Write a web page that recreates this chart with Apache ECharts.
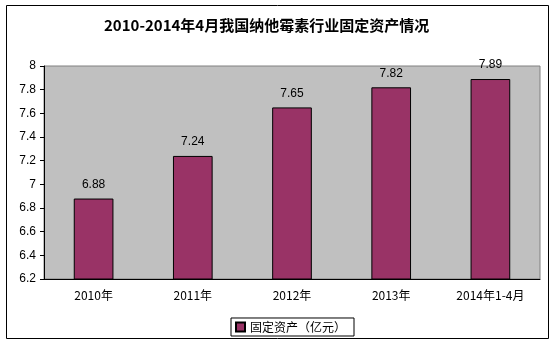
<!DOCTYPE html>
<html><head><meta charset="utf-8">
<script src="https://cdn.jsdelivr.net/npm/echarts@6/dist/echarts.min.js"></script>
<style>html,body{margin:0;padding:0;background:#fff}#c{width:556px;height:345px}</style>
</head><body><div id="c"></div>
<script>
const categories = ['2010年','2011年','2012年','2013年','2014年1-4月'];
const values = [6.88, 7.24, 7.65, 7.82, 7.89];
const seriesName = '固定资产（亿元）';
const titleText = '2010-2014年4月我国纳他霉素行业固定资产情况';

const chart = echarts.init(document.getElementById('c'), null, {renderer:'canvas'});
chart.setOption({
  animation:false,
  backgroundColor:'#fff',
  title:{text:titleText,left:99,top:13,textStyle:{fontSize:15,fontWeight:'bold',color:'#000',fontFamily:'Noto Sans CJK SC'}},
  graphic:[{type:'rect',shape:{x:6.5,y:5.5,width:542,height:333},style:{fill:null,stroke:'#000',lineWidth:1},z:-1}],
  legend:{data:[seriesName],bottom:9,left:231,itemWidth:9,itemHeight:9,itemGap:4,
    borderColor:'#000',borderWidth:1,borderRadius:0,padding:[3,8,3,4],
    textStyle:{fontSize:12,color:'#000',fontFamily:'Noto Sans CJK SC'},icon:'rect'},
  grid:{left:44,right:16,top:66,bottom:66,show:true,backgroundColor:'#c0c0c0',borderColor:'#808080',borderWidth:1},
  xAxis:{type:'category',data:categories,
    axisLine:{lineStyle:{color:'#000'}},
    axisTick:{inside:true,length:4,lineStyle:{color:'#000'}},
    axisLabel:{fontSize:12,color:'#000',margin:10,fontFamily:'Noto Sans CJK SC'}},
  yAxis:{type:'value',min:6.2,max:8,interval:0.2,
    axisLine:{show:true,lineStyle:{color:'#000'}},
    axisTick:{show:true,length:4,lineStyle:{color:'#000'}},
    splitLine:{show:false},
    axisLabel:{fontSize:12,color:'#000',margin:8,fontFamily:'Liberation Sans',formatter:v=>String(+v.toFixed(1))}},
  series:[{name:seriesName,type:'bar',data:values,barWidth:'40%',
    itemStyle:{color:'#993366',borderColor:'#000',borderWidth:1},
    label:{show:true,position:'top',distance:8,fontSize:12,color:'#000',fontFamily:'Liberation Sans'}}]
});
</script></body></html>
